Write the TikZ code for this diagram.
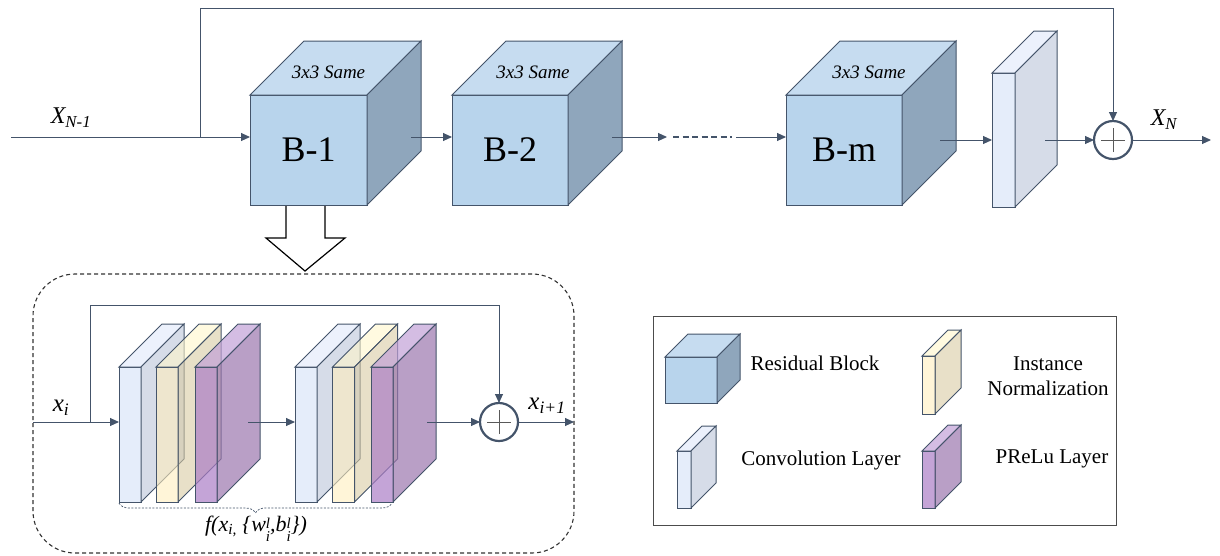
\documentclass[tikz,border=0pt]{standalone}
\usepackage{fontspec}
\setmainfont{Liberation Serif}
\usetikzlibrary{arrows.meta,decorations.pathreplacing}
\definecolor{linec}{HTML}{44546A}
\definecolor{cubeF}{HTML}{B8D4EC}
\definecolor{cubeT}{HTML}{C6DCF0}
\definecolor{cubeS}{HTML}{8FA6BC}
\definecolor{convF}{HTML}{E5EDFA}
\definecolor{convT}{HTML}{ECF1FC}
\definecolor{convS}{HTML}{D6DCE8}
\definecolor{nrmF}{HTML}{FFEEBE}
\definecolor{nrmT}{HTML}{FFF6CB}
\definecolor{nrmS}{HTML}{D9CBA3}
\definecolor{prF}{HTML}{AB7DC6}
\definecolor{prT}{HTML}{C2A1D7}
\definecolor{prS}{HTML}{9B76AE}
\newcommand\prism[7]{%
  \node[#6front, minimum width=#3, minimum height=#4] (#1) at #2 {#7};
  \draw[#6top] (#1.north west) -- ++(#5,-#5) -- ++(#3,0) -- (#1.north east) -- cycle;
  \draw[#6side] (#1.north east) -- ++(#5,-#5) -- ++(0,#4) -- (#1.south east) -- cycle;
}
\newcommand\supsubx[2]{\raisebox{-0.45em}{\fontsize{15}{13}\selectfont\shortstack[l]{#1\\#2}}}
\tikzset{
  face/.style={draw=linec, line width=1pt, line join=miter},
  cubefront/.style={face, fill=cubeF, inner sep=0pt, outer sep=0pt, font=\fontsize{36}{40}\selectfont},
  cubetop/.style={face, fill=cubeT},
  cubeside/.style={face, fill=cubeS},
  convfront/.style={face, fill=convF, inner sep=0pt, outer sep=0pt},
  convtop/.style={face, fill=convT},
  convside/.style={face, fill=convS},
  nrmfront/.style={face, fill=nrmF, fill opacity=0.6, inner sep=0pt, outer sep=0pt},
  nrmtop/.style={face, fill=nrmT, fill opacity=0.6},
  nrmside/.style={face, fill=nrmS, fill opacity=0.6},
  prfront/.style={face, fill=prF, fill opacity=0.7, inner sep=0pt, outer sep=0pt},
  prtop/.style={face, fill=prT, fill opacity=0.7},
  prside/.style={face, fill=prS, fill opacity=0.7},
  arr/.style={draw=linec, line width=1pt, -{Triangle[length=9pt,width=8pt]}},
  ln/.style={draw=linec, line width=1pt},
  plusnode/.style={circle, draw=linec, line width=2.2pt, fill=white, minimum size=38pt, inner sep=0pt, outer sep=0pt},
  pluslines/.style={draw=black!65, line width=0.8pt},
  samelbl/.style={font=\itshape\fontsize{19}{22}\selectfont},
  lbl/.style={font=\itshape\fontsize{24}{27}\selectfont},
  legtext/.style={font=\fontsize{21}{24.5}\selectfont, align=center},
}
\begin{document}
\begin{tikzpicture}[x=1pt,y=-1pt]
\useasboundingbox (0,0) rectangle (1220,555);

% ---------- top row ----------
\prism{b1}{(308.5,150)}{117}{110}{54}{cube}{B-1}
\prism{b2}{(510,150)}{116}{110}{54}{cube}{B-2}
\prism{bm}{(844,150)}{116}{110}{54}{cube}{B-m}
\prism{cv}{(1003.5,140)}{23}{134}{42}{conv}{}
\node[plusnode] (p1) at (1113,140) {};
\draw[pluslines] ([xshift=-12pt]p1.center) -- ([xshift=12pt]p1.center);
\draw[pluslines] ([yshift=-12pt]p1.center) -- ([yshift=12pt]p1.center);

\node[samelbl] at ([xshift=20pt,yshift=23pt]b1.north) {3x3 Same};
\node[samelbl] at ([xshift=23pt,yshift=23pt]b2.north) {3x3 Same};
\node[samelbl] at ([xshift=25pt,yshift=23pt]bm.north) {3x3 Same};

\coordinate (xin) at (11,137);
\coordinate (br) at (200,137);
\coordinate (a1) at (411,137);
\coordinate (a2) at (612,137);
\coordinate (d1) at (673,137);
\coordinate (d2) at (732,137);
\coordinate (a3) at (736,137);
\coordinate (a4) at (940,140);
\coordinate (a5) at (1045,140);
\coordinate (xout) at (1211,140);

\draw[arr] (xin) -- (xin -| b1.west);
\draw[arr] (br) -- (200,8) -| (p1.north);
\draw[arr] (a1) -- (a1 -| b2.west);
\draw[arr] (a2) -- (667,137);
\draw[ln, line width=1.8pt, dash pattern=on 6pt off 3.5pt] (d1) -- (d2);
\draw[arr] (a3) -- (a3 -| bm.west);
\draw[arr] (a4) -- (a4 -| cv.west);
\draw[arr] (a5) -- (p1.west);
\draw[arr] (p1.east) -- (xout);

\node[lbl] (xn1) at (71,118) {X\textsubscript{N-1}};
\node[lbl] (xn) at (1164,120) {X\textsubscript{N}};

% ---------- hollow arrow ----------
\draw[draw=black, line width=1.2pt, fill=white, line join=miter]
  (286,206) -- (286,238) -- (266,238) -- (305,271) -- (345,238) -- (325,238) -- (325,206);

% ---------- detail box ----------
\node[draw=black!80, line width=1.1pt, dash pattern=on 4pt off 3pt, rounded corners=42pt,
      minimum width=541, minimum height=279, inner sep=0pt] (detail) at (303.5,413.5) {};

\prism{c1}{(130,434.5)}{22}{135}{43}{conv}{}
\prism{n1}{(167,434.5)}{22}{135}{43}{nrm}{}
\prism{r1}{(206,434.5)}{22}{135}{43}{pr}{}
\prism{c2}{(306,434.5)}{22}{135}{43}{conv}{}
\prism{n2}{(343.5,434.5)}{22}{135}{43}{nrm}{}
\prism{r2}{(382,434.5)}{22}{135}{43}{pr}{}

\node[plusnode] (p2) at (499,422) {};
\draw[pluslines] ([xshift=-12pt]p2.center) -- ([xshift=12pt]p2.center);
\draw[pluslines] ([yshift=-12pt]p2.center) -- ([yshift=12pt]p2.center);

\coordinate (xi) at (33,422);
\coordinate (br2) at (90,422);
\coordinate (m1) at (248,422);
\coordinate (m2) at (427,422);
\coordinate (xo) at (574,422);
\draw[arr] (xi) -- (xi -| c1.west);
\draw[arr] (br2) -- (90,305) -| (p2.north);
\draw[arr] (m1) -- (m1 -| c2.west);
\draw[arr] (m2) -- (p2.west);
\draw[arr] (p2.east) -- (xo);

\node[font=\itshape\fontsize{25}{28}\selectfont] (xil) at (61,408) {x\textsubscript{i}};
\node[font=\itshape\fontsize{25}{28}\selectfont] (xol) at (547,406) {x\textsubscript{i+1}};

\draw[draw=linec, line width=0.7pt, dash pattern=on 2pt off 1.5pt, decorate,
      decoration={brace, mirror, amplitude=10pt}] (119,503) -- (392,503);
\node[font=\itshape\fontsize{22}{26}\selectfont] (fl) at (256,529)
  {f(x\textsubscript{i,} \{w\supsubx{l}{i},b\supsubx{l}{i}\})};

% ---------- legend ----------
\node[draw=black!70, line width=0.9pt, minimum width=463, minimum height=209, inner sep=0pt] (leg) at (884.5,420.5) {};
\prism{lcube}{(691,380)}{52}{46}{23}{cube}{}
\prism{lconv}{(684,479.5)}{14}{57}{25}{conv}{}
\prism{lnrm}{(928.5,385)}{13}{58}{26}{nrm}{}
\prism{lpr}{(928.5,479.5)}{13}{57}{26}{pr}{}
\node[legtext] (t1) at (815,363) {Residual Block};
\node[legtext] (t2) at (821,460) {Convolution Layer};
\node[legtext] (t3) at (1048,376) {Instance\\Normalization};
\node[legtext] (t4) at (1052,459) {PReLu Layer};
\end{tikzpicture}
\end{document}
